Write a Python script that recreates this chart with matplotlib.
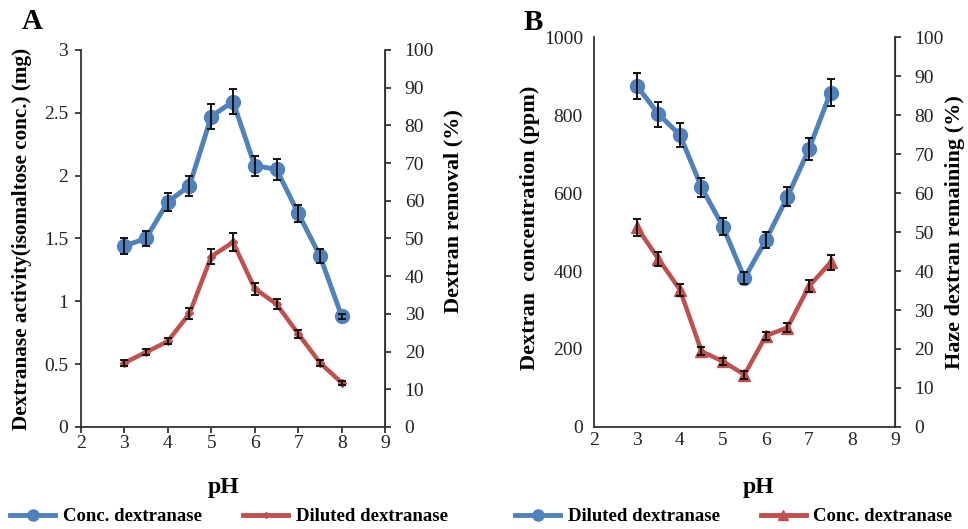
import numpy as np
import matplotlib
matplotlib.use('Agg')
import matplotlib.pyplot as plt
from matplotlib.lines import Line2D

plt.rcParams['font.family'] = ['Liberation Serif', 'DejaVu Serif']

# panel A: dextranase activity vs pH
ph_a = [3, 3.5, 4, 4.5, 5, 5.5, 6, 6.5, 7, 7.5, 8]
activity = [1.44, 1.50, 1.79, 1.92, 2.47, 2.59, 2.08, 2.05, 1.70, 1.36, 0.88]
activity_err = [0.06, 0.06, 0.07, 0.08, 0.10, 0.10, 0.08, 0.085, 0.07, 0.055, 0.02]
removal = [17.0, 19.8, 22.7, 30.1, 45.2, 49.0, 36.7, 32.6, 24.7, 17.0, 11.7]
removal_err = [0.8, 0.8, 0.8, 1.5, 2.0, 2.4, 1.6, 1.4, 1.0, 0.8, 0.6]

# panel B: dextran concentration vs pH
ph_b = [3, 3.5, 4, 4.5, 5, 5.5, 6, 6.5, 7, 7.5]
conc = [875, 803, 749, 615, 514, 382, 480, 591, 713, 858]
conc_err = [34, 32, 30, 25, 21, 16, 20, 24, 29, 35]
haze = [51.2, 43.1, 35.2, 19.4, 16.8, 13.4, 23.4, 25.5, 36.1, 42.2]
haze_err = [2.1, 1.8, 1.5, 1.0, 1.0, 1.0, 1.0, 1.2, 1.6, 1.8]

blue = '#4F81BD'
red = '#C0504D'
tick_fs = 14
label_fs = 16

fig = plt.figure(figsize=(9.68, 5.29), dpi=100)

def style(ax, ax2, ticks_left=True, ticks_bottom=True):
    ax.spines['top'].set_visible(False)
    ax2.spines['top'].set_visible(False)
    for s in ['left', 'bottom']:
        ax.spines[s].set_color('#333333')
        ax.spines[s].set_linewidth(1.3)
    ax2.spines['right'].set_color('#333333')
    ax2.spines['right'].set_linewidth(1.3)
    ax2.spines['left'].set_visible(False)
    ax2.spines['bottom'].set_visible(False)
    ax.tick_params(axis='y', direction='out', length=4 if ticks_left else 0, width=1.2,
                   labelsize=tick_fs, colors='#222222', pad=5 if ticks_left else 8)
    ax.tick_params(axis='x', direction='out', length=4 if ticks_bottom else 0, width=1.2,
                   labelsize=tick_fs, colors='#222222', pad=2 if ticks_bottom else 4)
    ax2.tick_params(axis='y', direction='out', length=4, width=1.2,
                    labelsize=tick_fs, colors='#222222', pad=10)
    ax.set_xlim(2, 9)
    ax.set_xticks(range(2, 10))
    ax.set_xlabel('pH', fontsize=17, fontweight='bold', va='top')

# ---- panel A
axA = fig.add_axes([0.0834, 0.193, 0.3146, 0.7125])
axA2 = axA.twinx()
axA.plot(ph_a, activity, '-o', color=blue, lw=3.5, ms=10, zorder=3, solid_joinstyle='round')
axA.errorbar(ph_a, activity, yerr=activity_err, fmt='none', ecolor='#111111',
             elinewidth=1.4, capsize=3, capthick=1.4, zorder=4)
axA2.plot(ph_a, removal, '-D', color=red, lw=3.2, ms=4.5, zorder=3, solid_joinstyle='round')
axA2.errorbar(ph_a, removal, yerr=removal_err, fmt='none', ecolor='#111111',
              elinewidth=1.4, capsize=3, capthick=1.4, zorder=4)
axA.set_ylim(0, 3)
axA.set_yticks([0, 0.5, 1, 1.5, 2, 2.5, 3])
axA.set_yticklabels(['0', '0.5', '1', '1.5', '2', '2.5', '3'])
axA2.set_ylim(0, 100)
axA2.set_yticks(range(0, 101, 10))
style(axA, axA2)
axA.set_ylabel('Dextranase activity(isomaltose conc.) (mg)', fontsize=15.3, fontweight='bold')
axA.yaxis.set_label_coords(-0.16, 0.5)
axA2.set_ylabel('Dextran removal (%)', fontsize=label_fs, fontweight='bold')
axA2.yaxis.set_label_coords(1.19, 0.573)
axA.xaxis.set_label_coords(0.468, -0.133)
fig.text(0.033, 0.96, 'A', fontsize=21, fontweight='bold', ha='center', va='center')

# ---- panel B
axB = fig.add_axes([0.6136, 0.193, 0.311, 0.7365])
axB2 = axB.twinx()
axB.plot(ph_b, conc, '-o', color=blue, lw=3.5, ms=10, zorder=3, solid_joinstyle='round')
axB.errorbar(ph_b, conc, yerr=conc_err, fmt='none', ecolor='#111111',
             elinewidth=1.4, capsize=3, capthick=1.4, zorder=4)
axB2.plot(ph_b, haze, '-^', color=red, lw=3.2, ms=9, zorder=3, solid_joinstyle='round')
axB2.errorbar(ph_b, haze, yerr=haze_err, fmt='none', ecolor='#111111',
              elinewidth=1.4, capsize=3, capthick=1.4, zorder=4)
axB.set_ylim(0, 1000)
axB.set_yticks(range(0, 1001, 200))
axB2.set_ylim(0, 100)
axB2.set_yticks(range(0, 101, 10))
style(axB, axB2, ticks_left=False, ticks_bottom=False)
axB.set_ylabel('Dextran  concentration (ppm)', fontsize=label_fs, fontweight='bold')
axB.yaxis.set_label_coords(-0.179, 0.51)
axB2.set_ylabel('Haze dextran remaining (%)', fontsize=label_fs, fontweight='bold')
axB2.yaxis.set_label_coords(1.166, 0.5)
axB.xaxis.set_label_coords(0.545, -0.128)
fig.text(0.551, 0.958, 'B', fontsize=21, fontweight='bold', ha='center', va='center')

# ---- legends
def handle(color, marker, ms):
    return Line2D([], [], color=color, lw=3.5, marker=marker, ms=ms)

leg_kw = dict(ncol=2, frameon=False, handlelength=2.4, columnspacing=2.2,
              handletextpad=0.4, prop={'weight': 'bold', 'size': 13.5})
fig.legend([handle(blue, 'o', 8), handle(red, 'D', 3)],
           ['Conc. dextranase', 'Diluted dextranase'],
           loc='center', bbox_to_anchor=(0.2366, 0.023), **leg_kw)
fig.legend([handle(blue, 'o', 8), handle(red, '^', 7)],
           ['Diluted dextranase', 'Conc. dextranase'],
           loc='center', bbox_to_anchor=(0.758, 0.023), **leg_kw)

fig.savefig('out.png', dpi=100)
